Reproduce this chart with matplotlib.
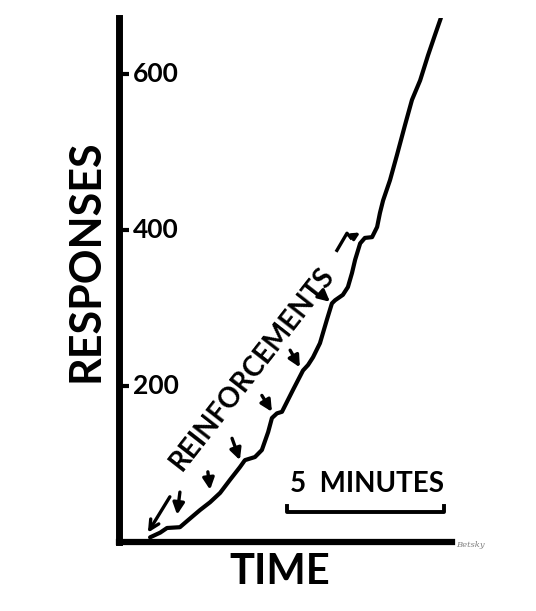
import matplotlib.pyplot as plt

plt.rcParams['font.family'] = ['Lato', 'DejaVu Sans']

# cumulative record: time in minutes, cumulative responses
minutes = [0.99, 1.31, 1.53, 1.94, 2.20, 2.58, 2.90, 3.22, 3.54, 3.85, 4.01, 4.33,
           4.55, 4.75, 4.87, 5.03, 5.19, 5.54, 5.86, 6.02, 6.18, 6.40, 6.62, 6.78,
           6.88, 7.13, 7.29, 7.42, 7.52, 7.68, 7.83, 8.06, 8.22, 8.31, 8.41, 8.63,
           8.85, 9.11, 9.33, 9.59, 9.84, 10.06, 10.25]
responses = [6, 12, 18, 19, 28, 41, 51, 63, 80, 96, 105, 109,
             118, 141, 159, 165, 167, 195, 220, 227, 237, 255, 285, 306,
             310, 317, 327, 345, 362, 383, 390, 391, 404, 422, 438, 464,
             496, 535, 567, 592, 624, 650, 672]

# reinforcement arrows (tail -> head)
arrow_tail = [(1.62, 58), (1.94, 64), (2.83, 90), (3.60, 133), (4.55, 188), (5.45, 246), (6.46, 317)]
arrow_head = [(0.92, 12), (1.85, 35), (2.90, 67), (3.85, 105), (4.87, 167), (5.76, 224), (6.72, 308)]
arrow_style = ['->', '-|>', '-|>', '-|>', '-|>', '-|>', '-|>']
squiggle_x = [6.94, 7.26, 7.39]
squiggle_y = [374, 396, 390]
squiggle_end = (7.68, 397)

y_ticks = [200, 400, 600]
scale_start, scale_len, scale_y = 5.35, 5.0, 38

fig = plt.figure(figsize=(5.36, 6.11), dpi=100)
ax = fig.add_axes([0.222, 0.1129, 0.621, 0.8576])
ax.set_xlim(0, 10.6)
ax.set_ylim(0, 672)

ax.plot(minutes, responses, color='black', lw=3, solid_capstyle='round',
        solid_joinstyle='round')

for (tx, ty), (hx, hy), st in zip(arrow_tail, arrow_head, arrow_style):
    ax.annotate('', xy=(hx, hy), xytext=(tx, ty),
                arrowprops=dict(arrowstyle=st, color='black', lw=2.4, mutation_scale=17,
                                shrinkA=0, shrinkB=0))
ax.plot(squiggle_x, squiggle_y, color='black', lw=2.4)
ax.annotate('', xy=squiggle_end, xytext=(squiggle_x[-1], squiggle_y[-1]),
            arrowprops=dict(arrowstyle='->', color='black', lw=2.4, mutation_scale=10,
                            shrinkA=0, shrinkB=0))

ax.text(4.25, 222, 'REINFORCEMENTS', rotation=52, rotation_mode='anchor',
        ha='center', va='center', fontsize=20, fontweight='bold')

# 5 minute scale bar
ax.plot([scale_start, scale_start, scale_start + scale_len, scale_start + scale_len],
        [scale_y + 8, scale_y, scale_y, scale_y + 8], color='black', lw=2.8)
ax.text(scale_start + scale_len / 2 + 0.05, scale_y + 20, '5  MINUTES', ha='center',
        va='bottom', fontsize=20, fontweight='bold')

ax.spines['top'].set_visible(False)
ax.spines['right'].set_visible(False)
ax.spines['left'].set_linewidth(5)
ax.spines['bottom'].set_linewidth(4.5)
ax.set_xticks([])
ax.set_yticks(y_ticks)
ax.tick_params(axis='y', direction='in', length=7, width=3, labelleft=False)
for t in y_ticks:
    ax.text(0.042, t, str(t), transform=ax.get_yaxis_transform(), ha='left',
            va='center', fontsize=19, fontweight='bold')

fig.text(0.159, 0.573, 'RESPONSES', rotation=90, ha='center', va='center',
         fontsize=31, fontweight='bold')
fig.text(0.522, 0.064, 'TIME', ha='center', va='center', fontsize=30, fontweight='bold')
fig.text(0.877, 0.108, 'Betsky', ha='center', va='center', fontsize=6,
         style='italic', family='DejaVu Serif', color='gray')

fig.savefig('out.png', dpi=100)
